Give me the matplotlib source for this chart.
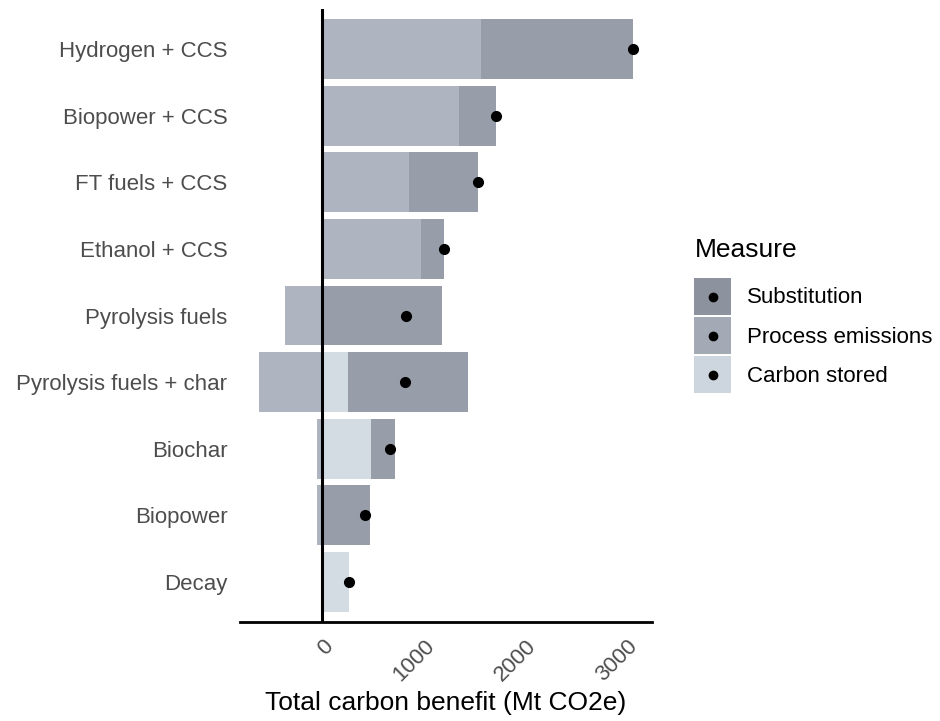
import matplotlib.pyplot as plt
import numpy as np
from matplotlib.patches import Patch
from matplotlib.lines import Line2D
from matplotlib.legend_handler import HandlerBase

plt.rcParams['font.family'] = ['Liberation Sans', 'DejaVu Sans']

categories = ['Hydrogen + CCS', 'Biopower + CCS', 'FT fuels + CCS', 'Ethanol + CCS',
              'Pyrolysis fuels', 'Pyrolysis fuels + char', 'Biochar', 'Biopower', 'Decay']
carbon_stored = [0, 0, 0, 0, 0, 258, 477, 0, 262]
process_emissions = [1559, 1350, 853, 970, -363, -624, -46, -46, 0]
substitution = [1500, 359, 680, 226, 1183, 1180, 236, 471, 0]

measures = ['Carbon stored', 'Process emissions', 'Substitution']
series = [carbon_stored, process_emissions, substitution]
bar_colors = ['#D3DBE3', '#AFB5C0', '#979DA9']
key_colors = ['#CDD5DE', '#A4AAB5', '#8C929E']


class DotHandler(HandlerBase):
    # put the dot in the middle of the key box
    def create_artists(self, legend, orig_handle, xdescent, ydescent, width, height, fontsize, trans):
        d = Line2D([width / 2 - xdescent], [height / 2 - ydescent], marker='o', color='black',
                   linestyle='none', markersize=6, transform=trans)
        return [d]


fig = plt.figure(figsize=(9.4, 7.21), dpi=100)
ax = fig.add_axes([240 / 940, 1 - 622 / 721, 412 / 940, 613 / 721])

y = np.arange(len(categories))
pos_base = np.zeros(len(categories))
neg_base = np.zeros(len(categories))
for vals, col in zip(series, bar_colors):
    vals = np.array(vals, dtype=float)
    left = np.where(vals >= 0, pos_base, neg_base)
    ax.barh(y, vals, left=left, height=0.9, color=col, linewidth=0)
    pos_base += np.clip(vals, 0, None)
    neg_base += np.clip(vals, None, 0)

totals = pos_base + neg_base
ax.plot(totals, y, 'o', color='black', markersize=7, zorder=4)
ax.axvline(0, color='black', lw=2.2, zorder=3)

ax.set_ylim(len(categories) - 0.4, -0.6)
ax.set_xlim(-808, 3243)
ax.set_yticks(y)
ax.set_yticklabels(categories, fontsize=16, color='#4D4D4D')
ax.set_xticks([0, 1000, 2000, 3000])
ax.set_xticklabels(['0', '1000', '2000', '3000'], fontsize=16, color='#4D4D4D',
                   rotation=45, ha='right', va='top', rotation_mode='anchor')
ax.tick_params(axis='both', length=0)
ax.tick_params(axis='y', pad=9)
ax.tick_params(axis='x', pad=10)
for s in ['top', 'right', 'left']:
    ax.spines[s].set_visible(False)
ax.spines['bottom'].set_linewidth(2)
ax.set_xlabel('Total carbon benefit (Mt CO2e)', fontsize=19, labelpad=4)

# legend
handles = []
labels = []
for m, c in zip(measures[::-1], key_colors[::-1]):
    handles.append((Patch(facecolor=c, linewidth=0), Line2D([], [])))
    labels.append(m)
fig.text(695 / 940, 1 - 250 / 721, 'Measure', fontsize=19, va='center', ha='left')
fig.legend(handles, labels, loc='upper left', bbox_to_anchor=(694 / 940, 1 - 278 / 721),
           frameon=False, fontsize=16, borderpad=0, borderaxespad=0,
           handlelength=1.67, handleheight=2.19, labelspacing=0.09, handletextpad=0.72,
           handler_map={Line2D: DotHandler()})

fig.savefig('out.png', dpi=100)
